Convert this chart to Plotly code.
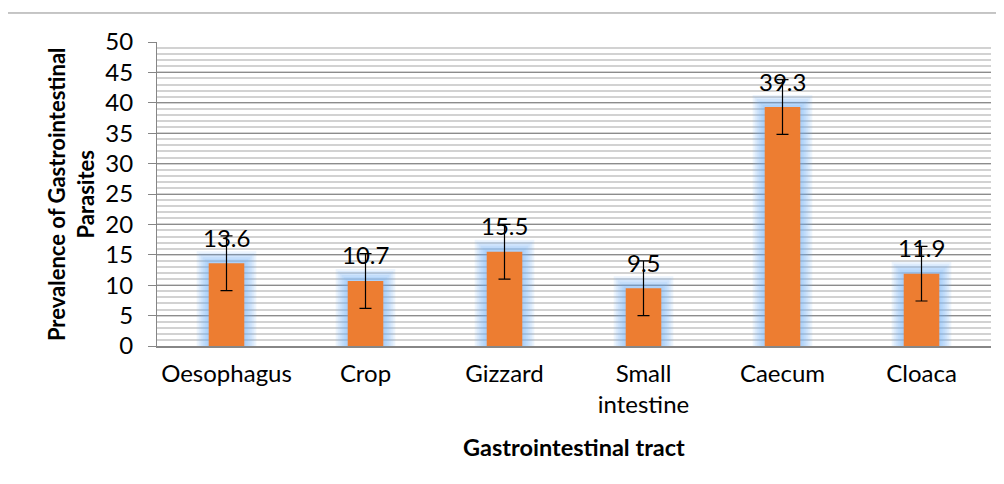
import plotly.graph_objects as go

categories = ["Oesophagus", "Crop", "Gizzard", "Small<br>intestine", "Caecum", "Cloaca"]
prevalence = [13.6, 10.7, 15.5, 9.5, 39.3, 11.9]
error_vals = [4.5, 4.5, 4.5, 4.5, 4.5, 4.5]
y_ticks = [0, 5, 10, 15, 20, 25, 30, 35, 40, 45, 50]

FONT = "Lato"
BAR_W = 0.256
PX_X = 1 / 139.0     # category units per pixel
PX_Y = 50 / 304.0    # value units per pixel

fig = go.Figure()

# soft blue glow behind bars (layered translucent bars)
for k in range(6, 0, -1):
    grow = 2 * k
    fig.add_trace(go.Bar(
        x=categories,
        y=[v + 2 * grow * PX_Y for v in prevalence],
        base=[-grow * PX_Y] * len(prevalence),
        width=BAR_W + 2 * grow * PX_X,
        marker=dict(color="rgba(110,175,245,0.12)", line=dict(width=0)),
        hoverinfo="skip", showlegend=False,
    ))

fig.add_trace(go.Bar(
    x=categories,
    y=prevalence,
    width=BAR_W,
    marker=dict(color="#ED7D31", line=dict(width=0)),
    error_y=dict(type="data", array=error_vals, visible=True,
                 color="black", thickness=1.2, width=6),
    showlegend=False,
))

for c, v in zip(categories, prevalence):
    fig.add_annotation(x=c, y=v, text=f"{v:.1f}", showarrow=False,
                       yshift=26, font=dict(family=FONT, size=24, color="black"))

fig.add_annotation(x=-0.103, y=0.5, xref="paper", yref="paper",
                   xanchor="center", yanchor="middle",
                   text="<b>Prevalence of Gastrointestinal<br>Parasites</b>",
                   textangle=-90, showarrow=False,
                   font=dict(family=FONT, size=22, color="black"))
fig.add_annotation(x=0.5, y=-0.332, xref="paper", yref="paper",
                   xanchor="center", yanchor="middle",
                   text="<b>Gastrointestinal tract</b>", showarrow=False,
                   font=dict(family=FONT, size=23.5, color="black"))

# outer chart border
fig.add_shape(type="rect", xref="paper", yref="paper",
              x0=-0.1799, y0=-0.6, x1=1.2, y1=1.0954,
              line=dict(color="#8c8c8c", width=1), fillcolor="rgba(0,0,0,0)")

fig.update_layout(
    width=988, height=468,
    margin=dict(l=149, r=5, t=34, b=130),
    barmode="overlay",
    plot_bgcolor="white", paper_bgcolor="white",
    font=dict(family=FONT, size=24, color="black"),
)
fig.update_yaxes(
    range=[0, 50], tickvals=y_ticks,
    showgrid=True, gridcolor="#8c8c8c", gridwidth=1,
    minor=dict(dtick=1, showgrid=True, gridcolor="#d2d2d2", gridwidth=1.5),
    showline=True, linecolor="#868686", linewidth=1,
    ticks="outside", ticklen=8, tickcolor="#868686",
    ticklabelstandoff=10, zeroline=False,
    tickfont=dict(family=FONT, size=24, color="black"),
)
fig.update_xaxes(
    showgrid=False, showline=True, linecolor="#868686", linewidth=2,
    ticks="", ticklabelstandoff=5,
    tickfont=dict(family=FONT, size=24, color="black"),
)

fig.write_html("out.html")
